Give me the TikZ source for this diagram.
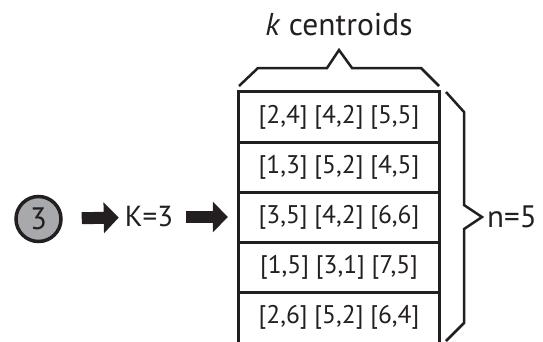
\documentclass[tikz,border=0pt]{standalone}
\usepackage{fontspec}
\setmainfont{PT Sans}
\usetikzlibrary{arrows.meta}
\definecolor{inkcolor}{HTML}{231F20}
\definecolor{seedgray}{HTML}{A7A9AC}

\begin{document}
\begin{tikzpicture}[x=1pt,y=-1pt,inkcolor,
    lbl/.style={inner sep=0pt,font=\fontsize{29}{31}\selectfont},
    cell/.style={inner sep=0pt,minimum width=200pt,minimum height=50pt,font=\fontsize{25.5}{28}\selectfont},
    ball/.style={circle,draw,line width=3.5pt,fill=seedgray,minimum size=45pt,inner sep=0pt,font=\fontsize{31}{33}\selectfont},
    fat/.style={line width=12pt,-{Triangle[length=15pt,width=30pt]}},
    rule/.style={line width=2.8pt},
    brace/.style={line width=2.5pt,line join=miter}]
  \useasboundingbox (0,0) rectangle (543,341);
  \def\midy{217}   % centre line
  \node[ball] (seed) at (38.5,219) {3};
  \node[lbl] (kval) at (149,\midy) {K=3};
  \foreach \r [count=\i] in {{[2,4] [4,2] [5,5]},{[1,3] [5,2] [4,5]},{[3,5] [4,2] [6,6]},{[1,5] [3,1] [7,5]},{[2,6] [5,2] [6,4]}}
    { \node[cell] (row\i) at (339,{67+50*\i}) {\r}; }
  \draw[rule] (row5.south west) |- (row1.north east) -- (row5.south east);
  \foreach \i in {1,...,4} { \draw[rule] (row\i.south west) -- (row\i.south east); }
  \draw[fat,shorten <=19pt,shorten >=6pt] (seed) -- (kval);
  \draw[fat,shorten <=13pt,shorten >=11pt] (kval) -- (row3);
  % braces
  \draw[brace] (239,86) -- (258,68) -- (327,68) -- (339,50) -- (352,68) -- (421,68) -- (439,86);
  \draw[brace] (446,92) -- (464,112) -- (464,205) -- (482,\midy) -- (464,229) -- (464,323) -- (446,341);
  \node[lbl,font=\fontsize{31.5}{33}\selectfont] (title) at (339,25) {\textit{k} centroids};
  \node[lbl,anchor=west,font=\fontsize{31}{33}\selectfont] (nval) at (487,\midy) {n=5};
\end{tikzpicture}
\end{document}
